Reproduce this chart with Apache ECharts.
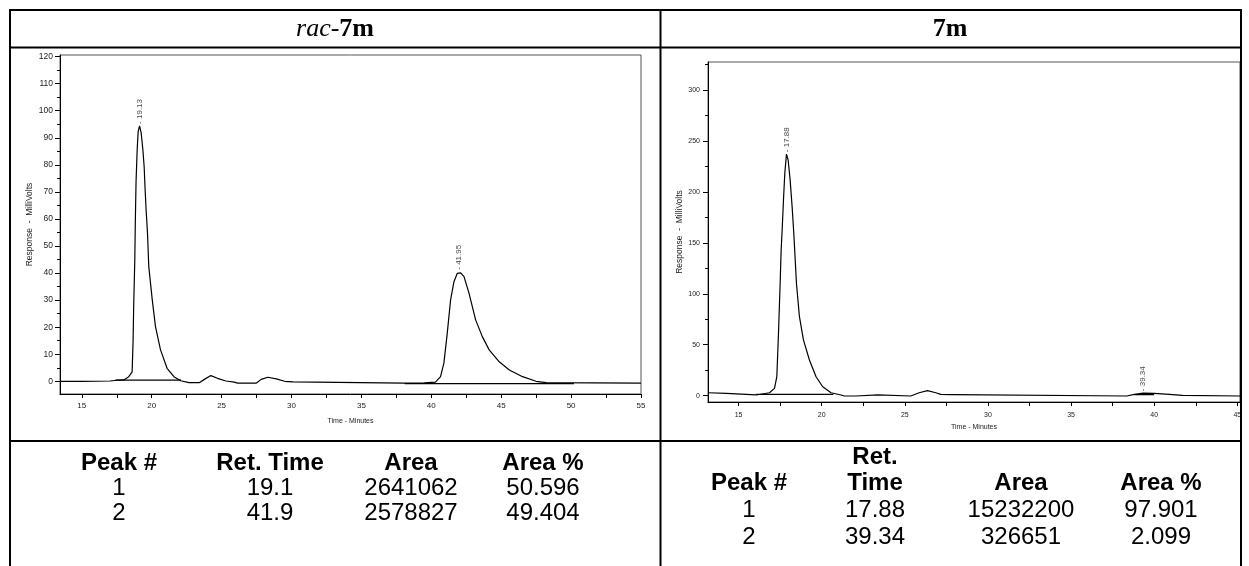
<!DOCTYPE html>
<html>
<head>
<meta charset="utf-8">
<script src="https://cdn.jsdelivr.net/npm/echarts@6/dist/echarts.min.js"></script>
<style>
  html, body { margin: 0; padding: 0; background: #fff; }
  #chart { width: 1249px; height: 566px; }
</style>
</head>
<body>
<div id="chart"></div>
<script>
// ---- Chromatogram traces: [time (min), response (mV)] ----
const racSignal = [
  [13.44,0],[15,0],[17.0,0.1],[17.4,0.3],[18.0,0.5],[18.36,1.7],[18.6,3.5],[18.67,15.3],[18.71,27.6],
  [18.79,44.8],[18.83,59.6],[18.88,73.8],[18.96,85.5],[19.03,92.3],[19.13,94.4],[19.25,91.7],[19.37,85.5],
  [19.46,79.3],[19.53,70.7],[19.6,63.3],[19.7,54.7],[19.79,42.4],[20.04,30.1],[20.27,20.2],[20.63,11.6],
  [21.1,4.8],[21.59,1.7],[22.07,0.2],[22.67,-0.5],[23.4,-0.5],[23.8,0.8],[24.23,2.1],[24.71,1.1],[25.31,0.1],
  [25.9,-0.3],[26.15,-0.7],[27.47,-0.7],[27.83,0.7],[28.31,1.5],[28.91,0.9],[29.51,0],[30.11,-0.2],[30.22,-0.7],
  [38.1,-0.7],[39.5,-0.6],[39.55,-0.3],[40.3,-0.3],[40.66,1.7],[40.9,6.7],[41.14,17.7],[41.38,30.1],[41.62,36.8],
  [41.86,39.9],[41.95,40.5],[42.1,40.1],[42.34,38.7],[42.7,32.5],[43.17,22.7],[43.65,16.5],[44.14,11.6],
  [44.86,7.2],[45.58,4.2],[46.53,1.7],[47.49,0],[48.21,-0.5],[48.3,-0.7],[55,-0.7]
];
const racBaselines = [
  [[17.4,0.4],[22.1,0.4]],
  [[38.1,-0.9],[50.2,-0.9]]
];
const racPeaks = [[19.13,94.4],[41.95,40.5]];

const enantSignal = [
  [13.16,2.9],[14.26,2.3],[14.36,0.7],[16.06,0.7],[16.16,2.0],[16.86,2.9],[17.16,7.2],[17.3,18.6],[17.4,61.2],
  [17.5,110.3],[17.56,143],[17.62,162.6],[17.7,192],[17.78,218.2],[17.88,237],[17.98,231.3],[18.1,211.7],
  [18.22,185.5],[18.32,159.4],[18.4,135],[18.48,110.3],[18.66,77.5],[18.9,54.7],[19.26,35],[19.66,18.6],
  [20.06,8.8],[20.56,2.9],[21.16,0.7],[21.36,-0.3],[22.06,-0.3],[22.16,0.7],[23.36,0.7],[23.46,-0.3],
  [25.36,-0.3],[25.86,2.9],[26.36,4.9],[26.86,2.9],[27.16,1.3],[27.76,1.0],[27.96,1.0],[28.0,-0.3],
  [38.36,-0.3],[38.4,1.3],[38.8,1.3],[38.85,2.3],[39.34,2.5],[40.0,2.3],[40.05,1.3],[40.9,1.3],[40.95,0.3],
  [41.7,0.3],[41.75,-0.3],[45.16,-0.3]
];
const enantBaselines = [
  [[16.06,1.3],[20.7,1.3]],
  [[38.8,1.0],[40.0,1.0]]
];
const enantPeaks = [[17.88,237],[39.34,2.5]];

// ---- Axis ticks ----
const racTimeTicks = [15,17.5,20,22.5,25,27.5,30,32.5,35,37.5,40,42.5,45,47.5,50,52.5,55];
const racTimeLabels = [15,20,25,30,35,40,45,50,55];
const racMvLabels = [0,10,20,30,40,50,60,70,80,90,100,110,120];
const racMvMinor = [5,15,25,35,45,55,65,75,85,95,105,115];
const enantTimeTicks = [15,17.5,20,22.5,25,27.5,30,32.5,35,37.5,40,42.5,45];
const enantTimeLabels = [15,20,25,30,35,40,45];
const enantMvLabels = [0,50,100,150,200,250,300];
const enantMvMinor = [25,75,125,175,225,275,325];

// ---- Panel titles and peak tables ----
const tableHeaders = ['Peak #', 'Ret. Time', 'Area', 'Area %'];
const racPeakNo = ['1', '2'];
const racRetTime = ['19.1', '41.9'];
const racArea = ['2641062', '2578827'];
const racAreaPct = ['50.596', '49.404'];
const enantPeakNo = ['1', '2'];
const enantRetTime = ['17.88', '39.34'];
const enantArea = ['15232200', '326651'];
const enantAreaPct = ['97.901', '2.099'];

const SANS = '"Liberation Sans", Arial, sans-serif';
const SERIF = '"Liberation Serif", "Times New Roman", serif';

function timeAxis(gridIndex, min, max, ticks, labels, fontSize, margin, nameGap) {
  return {
    type: 'value', gridIndex, min, max,
    name: 'Time - Minutes', nameLocation: 'middle', nameGap,
    nameTextStyle: { fontFamily: SANS, fontSize: 7, color: '#222' },
    axisLine: { show: true, onZero: false, lineStyle: { color: '#000', width: 1 } },
    axisTick: { show: true, customValues: ticks, length: 4, lineStyle: { color: '#000' } },
    axisLabel: { show: true, customValues: labels, margin, fontFamily: SANS, fontSize, color: '#222' },
    splitLine: { show: false }
  };
}
function mvAxis(gridIndex, min, max, labels, fontSize, margin, nameGap) {
  return {
    type: 'value', gridIndex, min, max,
    name: 'Response  -  MilliVolts', nameLocation: 'middle', nameGap, nameRotate: 90,
    nameTextStyle: { fontFamily: SANS, fontSize: 8.5, color: '#222' },
    axisLine: { show: true, onZero: false, lineStyle: { color: '#000', width: 1 } },
    axisTick: { show: true, customValues: labels, length: 5, lineStyle: { color: '#000' } },
    axisLabel: { show: true, customValues: labels, margin, fontFamily: SANS, fontSize, color: '#222' },
    splitLine: { show: false }
  };
}
function mvMinorAxis(gridIndex, min, max, minor) {
  return {
    type: 'value', gridIndex, min, max, position: 'left',
    axisLine: { show: false },
    axisTick: { show: true, customValues: minor, length: 3, lineStyle: { color: '#000' } },
    axisLabel: { show: false },
    splitLine: { show: false }
  };
}

function traceSeries(data, xi, yi) {
  return {
    type: 'line', xAxisIndex: xi, yAxisIndex: yi, data,
    showSymbol: false, symbol: 'none', silent: true,
    lineStyle: { color: '#000', width: 1.2 }
  };
}
function peakLabelSeries(points, xi, yi) {
  return {
    type: 'scatter', xAxisIndex: xi, yAxisIndex: yi, silent: true,
    data: points, symbolSize: 0,
    label: {
      show: true, position: 'top', distance: 2, rotate: 90,
      align: 'left', verticalAlign: 'middle',
      fontFamily: SANS, fontSize: 8, color: '#111',
      formatter: p => '- ' + p.value[0].toFixed(2)
    }
  };
}

// ---- Table frame and text ----
const graphics = [];
const lineStyle = { stroke: '#000', lineWidth: 2 };
function hLine(x1, x2, y) { graphics.push({ type: 'line', shape: { x1, y1: y, x2, y2: y }, style: lineStyle, z: 10 }); }
function vLine(x, y1, y2) { graphics.push({ type: 'line', shape: { x1: x, y1, x2: x, y2 }, style: lineStyle, z: 10 }); }
hLine(9, 1242, 10);
hLine(9, 1242, 47.5);
hLine(9, 1242, 441);
vLine(10, 9, 566);
vLine(660.5, 9, 566);
vLine(1241, 9, 566);

function text(x, y, str, font) {
  graphics.push({
    type: 'text', z: 11,
    style: { x, y, text: str, font, fill: '#000', textAlign: 'center', textVerticalAlign: 'middle' }
  });
}
// panel titles
graphics.push({
  type: 'text', z: 11,
  style: {
    x: 335, y: 29, text: '{i|rac}{n|-}{b|7m}', textAlign: 'center', textVerticalAlign: 'middle',
    rich: {
      i: { fontFamily: SERIF, fontSize: 26, fontStyle: 'italic', fill: '#000' },
      n: { fontFamily: SERIF, fontSize: 26, fill: '#000' },
      b: { fontFamily: SERIF, fontSize: 26, fontWeight: 'bold', fill: '#000' }
    }
  }
});
text(950, 29, '7m', 'bold 26px ' + SERIF);

const TABLE_BOLD = 'bold 24px ' + SANS;
const TABLE_REG = '24px ' + SANS;
// left table
const racCols = [119, 270, 411, 543];
const racRows = [463, 488, 513];
tableHeaders.forEach((h, i) => text(racCols[i], racRows[0], h, TABLE_BOLD));
[racPeakNo, racRetTime, racArea, racAreaPct].forEach((col, i) => {
  col.forEach((v, r) => text(racCols[i], racRows[r + 1], v, TABLE_REG));
});
// right table (retention-time header wraps over two lines)
const enantCols = [749, 875, 1021, 1161];
const enantRows = [457, 483, 510, 537];
const retParts = tableHeaders[1].split(' ');
text(enantCols[1], enantRows[0], retParts[0], TABLE_BOLD);
text(enantCols[1], enantRows[1], retParts[1], TABLE_BOLD);
[0, 2, 3].forEach(i => text(enantCols[i], enantRows[1], tableHeaders[i], TABLE_BOLD));
[enantPeakNo, enantRetTime, enantArea, enantAreaPct].forEach((col, i) => {
  col.forEach((v, r) => text(enantCols[i], enantRows[r + 2], v, TABLE_REG));
});

const chart = echarts.init(document.getElementById('chart'), null, { renderer: 'canvas' });
chart.setOption({
  animation: false,
  backgroundColor: '#fff',
  grid: [
    { left: 60, top: 55, width: 581, height: 339, show: true, borderColor: '#555', borderWidth: 1,
      outerBoundsMode: 'none', containLabel: false },
    { left: 708, top: 62, width: 532, height: 340, show: true, borderColor: '#555', borderWidth: 1,
      outerBoundsMode: 'none', containLabel: false }
  ],
  xAxis: [
    timeAxis(0, 13.44, 55, racTimeTicks, racTimeLabels, 8, 8, 24),
    timeAxis(1, 13.16, 45.16, enantTimeTicks, enantTimeLabels, 7, 10, 21)
  ],
  yAxis: [
    mvAxis(0, -4.7, 120.6, racMvLabels, 8.5, 7, 26),
    mvMinorAxis(0, -4.7, 120.6, racMvMinor),
    mvAxis(1, -6.2, 327.4, enantMvLabels, 7, 8, 24),
    mvMinorAxis(1, -6.2, 327.4, enantMvMinor)
  ],
  series: [
    traceSeries(racSignal, 0, 0),
    ...racBaselines.map(b => traceSeries(b, 0, 0)),
    peakLabelSeries(racPeaks, 0, 0),
    traceSeries(enantSignal, 1, 2),
    ...enantBaselines.map(b => traceSeries(b, 1, 2)),
    peakLabelSeries(enantPeaks, 1, 2)
  ],
  graphic: graphics
});
</script>
</body>
</html>
